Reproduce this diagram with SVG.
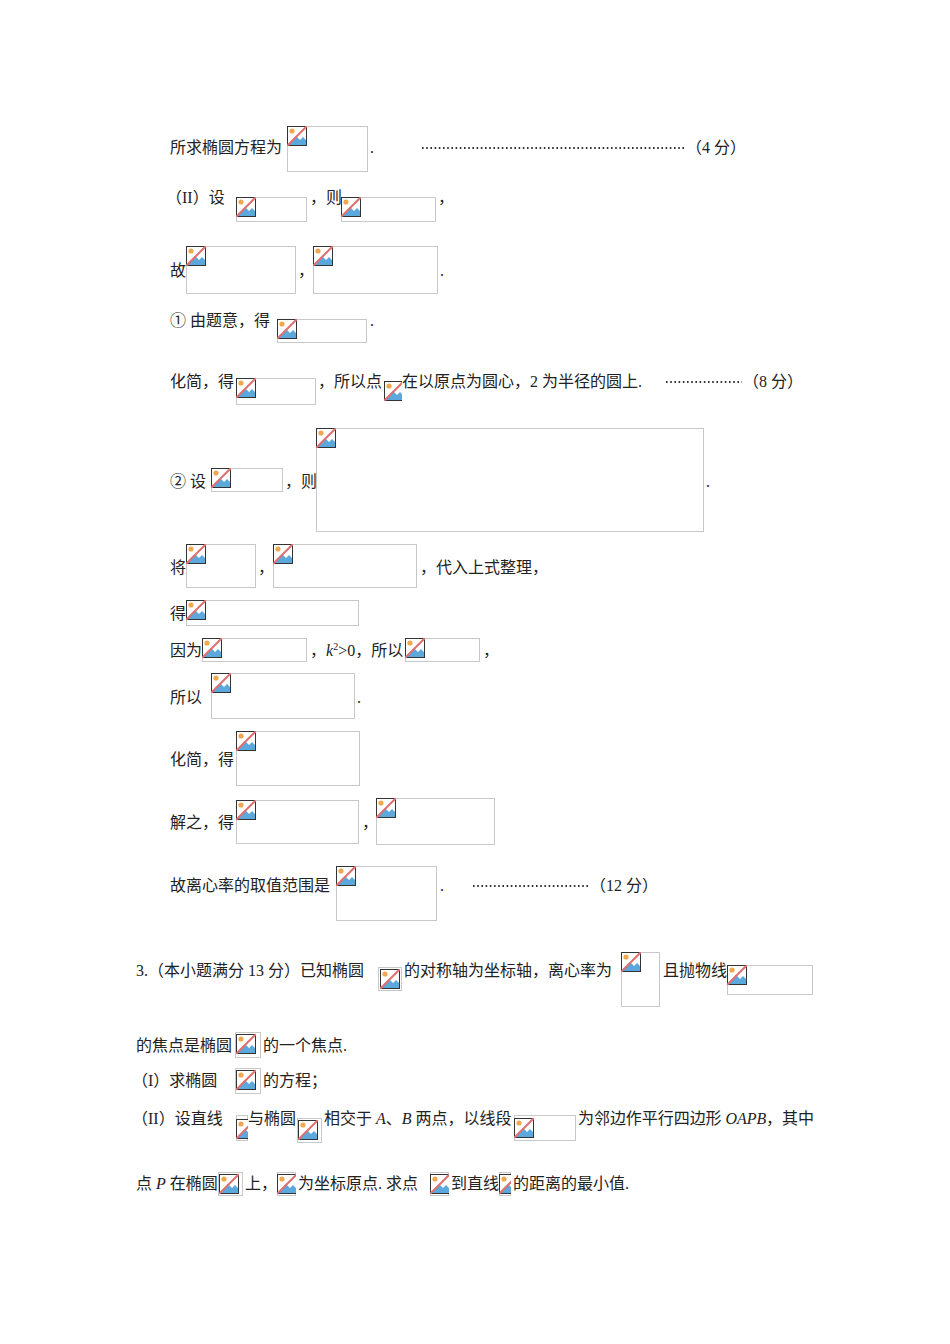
<svg xmlns="http://www.w3.org/2000/svg" xmlns:xlink="http://www.w3.org/1999/xlink" width="950" height="1344" viewBox="0 0 950 1344">
<style>
text{font-family:"Liberation Serif","Noto Sans CJK SC",serif;font-size:16px;fill:#222}
.b{fill:none;stroke:#c8c8c8;stroke-width:1}
.i{font-style:italic}
.d{fill:none;stroke:#333;stroke-width:2;stroke-dasharray:1.6 2.6}
</style>
<defs>
<symbol id="ic" viewBox="0 0 20 20" width="20" height="20">
<rect x="0.5" y="0.5" width="19" height="19" fill="#fff" stroke="#333"/>
<path d="M1 19 L9 10 L13 14 L16 11 L19 14 L19 19 Z" fill="#5ba8dc"/>
<circle cx="5" cy="5" r="2.6" fill="#f0a850"/>
<line x1="0" y1="20" x2="20" y2="0" stroke="#e07070" stroke-width="2"/>
</symbol>
</defs>
<rect width="950" height="1344" fill="#fff"/>
<g id="boxes">
<svg x="287" y="126" width="81" height="46"><rect class="b" x="0.5" y="0.5" width="80" height="45"/><use xlink:href="#ic"/></svg>
<svg x="236" y="197" width="71" height="25"><rect class="b" x="0.5" y="0.5" width="70" height="24"/><use xlink:href="#ic"/></svg>
<svg x="341" y="197" width="95" height="25"><rect class="b" x="0.5" y="0.5" width="94" height="24"/><use xlink:href="#ic"/></svg>
<svg x="186" y="246" width="110" height="48"><rect class="b" x="0.5" y="0.5" width="109" height="47"/><use xlink:href="#ic"/></svg>
<svg x="313" y="246" width="125" height="48"><rect class="b" x="0.5" y="0.5" width="124" height="47"/><use xlink:href="#ic"/></svg>
<svg x="277" y="319" width="90" height="24"><rect class="b" x="0.5" y="0.5" width="89" height="23"/><use xlink:href="#ic"/></svg>
<svg x="236" y="378" width="80" height="27"><rect class="b" x="0.5" y="0.5" width="79" height="26"/><use xlink:href="#ic"/></svg>
<svg x="384" y="381" width="18" height="20"><rect class="b" x="0.5" y="0.5" width="17" height="19"/><use xlink:href="#ic"/></svg>
<svg x="211" y="468" width="72" height="24"><rect class="b" x="0.5" y="0.5" width="71" height="23"/><use xlink:href="#ic"/></svg>
<svg x="316" y="428" width="388" height="104"><rect class="b" x="0.5" y="0.5" width="387" height="103"/><use xlink:href="#ic"/></svg>
<svg x="186" y="544" width="70" height="44"><rect class="b" x="0.5" y="0.5" width="69" height="43"/><use xlink:href="#ic"/></svg>
<svg x="273" y="544" width="144" height="44"><rect class="b" x="0.5" y="0.5" width="143" height="43"/><use xlink:href="#ic"/></svg>
<svg x="186" y="600" width="173" height="26"><rect class="b" x="0.5" y="0.5" width="172" height="25"/><use xlink:href="#ic"/></svg>
<svg x="202" y="638" width="105" height="24"><rect class="b" x="0.5" y="0.5" width="104" height="23"/><use xlink:href="#ic"/></svg>
<svg x="405" y="638" width="75" height="24"><rect class="b" x="0.5" y="0.5" width="74" height="23"/><use xlink:href="#ic"/></svg>
<svg x="211" y="673" width="144" height="46"><rect class="b" x="0.5" y="0.5" width="143" height="45"/><use xlink:href="#ic"/></svg>
<svg x="236" y="731" width="124" height="55"><rect class="b" x="0.5" y="0.5" width="123" height="54"/><use xlink:href="#ic"/></svg>
<svg x="236" y="800" width="123" height="44"><rect class="b" x="0.5" y="0.5" width="122" height="43"/><use xlink:href="#ic"/></svg>
<svg x="376" y="798" width="119" height="47"><rect class="b" x="0.5" y="0.5" width="118" height="46"/><use xlink:href="#ic"/></svg>
<svg x="336" y="866" width="101" height="55"><rect class="b" x="0.5" y="0.5" width="100" height="54"/><use xlink:href="#ic"/></svg>
<svg x="378" y="967" width="24" height="24"><rect class="b" x="0.5" y="0.5" width="23" height="23"/><use xlink:href="#ic" x="2" y="2"/></svg>
<svg x="621" y="952" width="39" height="55"><rect class="b" x="0.5" y="0.5" width="38" height="54"/><use xlink:href="#ic"/></svg>
<svg x="727" y="965" width="86" height="30"><rect class="b" x="0.5" y="0.5" width="85" height="29"/><use xlink:href="#ic"/></svg>
<svg x="235" y="1032" width="26" height="26"><rect class="b" x="0.5" y="0.5" width="25" height="25"/><use xlink:href="#ic" x="1" y="2"/></svg>
<svg x="235" y="1068" width="26" height="26"><rect class="b" x="0.5" y="0.5" width="25" height="25"/><use xlink:href="#ic" x="1" y="2"/></svg>
<svg x="236" y="1115" width="12" height="26"><rect class="b" x="0.5" y="0.5" width="11" height="25"/><use xlink:href="#ic" y="4"/></svg>
<svg x="297" y="1118" width="25" height="25"><rect class="b" x="0.5" y="0.5" width="24" height="24"/><use xlink:href="#ic" x="1" y="2"/></svg>
<svg x="514" y="1115" width="62" height="26"><rect class="b" x="0.5" y="0.5" width="61" height="25"/><use xlink:href="#ic" y="3"/></svg>
<svg x="218" y="1172" width="25" height="24"><rect class="b" x="0.5" y="0.5" width="24" height="23"/><use xlink:href="#ic" x="1" y="2"/></svg>
<svg x="277" y="1172" width="19" height="24"><rect class="b" x="0.5" y="0.5" width="18" height="23"/><use xlink:href="#ic" y="2"/></svg>
<svg x="430" y="1172" width="19" height="24"><rect class="b" x="0.5" y="0.5" width="18" height="23"/><use xlink:href="#ic" y="2"/></svg>
<svg x="499" y="1172" width="12" height="24"><rect class="b" x="0.5" y="0.5" width="11" height="23"/><use xlink:href="#ic" y="2"/></svg>
</g>
<g id="leaders">
<line class="d" x1="422" y1="148" x2="684" y2="148"/>
<line class="d" x1="666" y1="382" x2="742" y2="382"/>
<line class="d" x1="473" y1="886" x2="589" y2="886"/>
</g>
<g id="texts">
<text x="170" y="153">所求椭圆方程为</text><text x="370" y="153">.</text>
<text x="686" y="153">（4 分）</text>
<text x="166" y="203">（II）设</text><text x="310" y="203">，则</text><text x="438" y="203">，</text>
<text x="170" y="276">故</text><text x="298" y="276">，</text><text x="440" y="276">.</text>
<text x="170" y="326">① 由题意，得</text><text x="370" y="326">.</text>
<text x="170" y="387">化简，得</text><text x="318" y="387">，所以点</text>
<text x="402" y="387">在以原点为圆心，2 为半径的圆上.</text>
<text x="743" y="387">（8 分）</text>
<text x="170" y="487">② 设</text><text x="285" y="487">，则</text><text x="706" y="487">.</text>
<text x="170" y="573">将</text><text x="258" y="573">，</text><text x="420" y="573">，代入上式整理，</text>
<text x="170" y="619">得</text>
<text x="170" y="656">因为</text><text x="310" y="656">，<tspan class="i">k</tspan><tspan font-size="10" dy="-6">2</tspan><tspan dy="6">&gt;0，所以</tspan></text><text x="483" y="656">，</text>
<text x="170" y="703">所以</text><text x="357" y="703">.</text>
<text x="170" y="765">化简，得</text>
<text x="170" y="828">解之，得</text><text x="362" y="828">，</text>
<text x="170" y="891">故离心率的取值范围是</text><text x="440" y="891">.</text>
<text x="590" y="891">（12 分）</text>
<text x="136" y="976">3.（本小题满分 13 分）已知椭圆</text>
<text x="404" y="976">的对称轴为坐标轴，离心率为</text>
<text x="663" y="976">且抛物线</text>
<text x="136" y="1051">的焦点是椭圆</text><text x="263" y="1051">的一个焦点.</text>
<text x="132" y="1086">（I）求椭圆</text><text x="263" y="1086">的方程；</text>
<text x="132" y="1124">（II）设直线</text><text x="248" y="1124">与椭圆</text>
<text x="324" y="1124">相交于 <tspan class="i">A</tspan>、<tspan class="i">B</tspan> 两点，以线段</text>
<text x="578" y="1124" textLength="236" lengthAdjust="spacing">为邻边作平行四边形 <tspan class="i">OAPB</tspan>，其中</text>
<text x="136" y="1189">点 <tspan class="i">P</tspan> 在椭圆</text><text x="245" y="1189">上，</text>
<text x="298" y="1189">为坐标原点. 求点</text><text x="451" y="1189">到直线</text><text x="513" y="1189">的距离的最小值.</text>
</g>
</svg>
